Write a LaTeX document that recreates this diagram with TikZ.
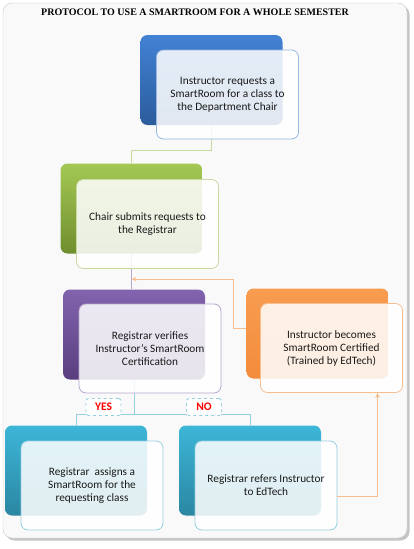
\documentclass[tikz,border=0pt]{standalone}
\usepackage{fontspec}
\setmainfont{Carlito}
\newfontfamily\titrefont{Liberation Serif}
\usetikzlibrary{arrows.meta,calc,shadows}

\definecolor{bleuH}{HTML}{4282D4}
\definecolor{bleuB}{HTML}{2B5C9C}
\definecolor{bleuL}{HTML}{95B7E2}
\definecolor{vertH}{HTML}{A4C853}
\definecolor{vertB}{HTML}{6F8E2F}
\definecolor{vertL}{HTML}{C6D9A0}
\definecolor{violetH}{HTML}{8264AE}
\definecolor{violetB}{HTML}{593E7F}
\definecolor{violetL}{HTML}{B7A7CC}
\definecolor{orangeH}{HTML}{F89C50}
\definecolor{orangeB}{HTML}{F38C3C}
\definecolor{orangeL}{HTML}{F9BE8E}
\definecolor{cyanH}{HTML}{3DB6D8}
\definecolor{cyanB}{HTML}{2A87A2}
\definecolor{cyanL}{HTML}{96CFE0}

\begin{document}
\begin{tikzpicture}[
  x=1pt,y=-1pt,
  >={Stealth[length=5pt,width=4.5pt]},
  cadre/.style={draw=black!22,fill=black!2.5,rounded corners=9pt,
    drop shadow={shadow xshift=2.5pt,shadow yshift=-2.5pt,fill=black!45}},
  arriere/.style n args={2}{rounded corners=7pt,inner sep=0pt,
    minimum width=142pt,minimum height=90pt,top color=#1,bottom color=#2},
  avant/.style={rounded corners=7pt,draw=#1,line width=0.8pt,
    fill=white,fill opacity=0.86,text opacity=1,text=black!90,
    minimum width=142pt,minimum height=89pt,align=center,
    font=\fontsize{11.3}{13}\selectfont},
  lien/.style={draw=#1,line width=0.9pt},
  choix/.style={draw=cyanL,dashed,line width=0.9pt,fill=white,
    rounded corners=2.5pt,minimum width=35pt,minimum height=17pt,
    inner sep=0pt,text=red,font=\bfseries\fontsize{11.5}{12}\selectfont},
]
  \useasboundingbox (0,0) rectangle (413,549);

  % Cadre et titre
  \path[cadre] (3,3) rectangle (407,538);
  \node[font=\titrefont\bfseries\fontsize{10}{11}\selectfont] (titre) at (195,12)
    {PROTOCOL TO USE A SMARTROOM FOR A WHOLE SEMESTER};

  % Blocs arriere (degrades)
  \node[arriere={bleuH}{bleuB}]     (demandeF)  at (211.5,80)  {};
  \node[arriere={vertH}{vertB}]     (chefF)     at (131.5,208.5) {};
  \node[arriere={violetH}{violetB}] (verifF)    at (134,334.5) {};
  \node[arriere={orangeH}{orangeB}] (certifF)   at (317.5,333.5) {};
  \node[arriere={cyanH}{cyanB}]     (attribF)   at (76,470.5)  {};
  \node[arriere={cyanH}{cyanB}]     (renvoiF)   at (250,470.5) {};

  % Liens
  \draw[lien=vertL] (demandeF.south) -- ++(0,25) -| (chefF.north);
  \draw[lien=violetL] (chefF.south) -- (chefF.south |- verifF.north);
  \draw[lien=cyanL] (verifF.south) -- ++(0,35) coordinate (fourche);
  \draw[lien=cyanL] (fourche) -| (attribF.north);
  \draw[lien=cyanL] (fourche) -| (renvoiF.north);

  % Blocs avant (texte)
  \node[avant=bleuL]   (demande) at ($(demandeF)+(16,14.5)$)
    {Instructor requests a\\SmartRoom for a class to\\the Department Chair};
  \node[avant=vertL]   (chef)    at ($(chefF)+(16,15.5)$)
    {Chair submits requests to\\the Registrar};
  \node[avant=violetL] (verif)   at ($(verifF)+(16,14)$)
    {Registrar verifies\\Instructor's SmartRoom\\Certification};
  \node[avant=orangeL] (certif)  at ($(certifF)+(14,14.5)$)
    {Instructor becomes\\SmartRoom Certified\\(Trained by EdTech)};
  \node[avant=cyanL]   (attrib)  at ($(attribF)+(16,15)$)
    {Registrar\ \ assigns a\\SmartRoom for the\\requesting class};
  \node[avant=cyanL]   (renvoi)  at ($(renvoiF)+(16,15)$)
    {Registrar refers Instructor\\to EdTech};

  % Etiquettes YES / NO
  \node[choix] (oui) at (103.5,407) {YES};
  \node[choix] (non) at (204,407)   {NO};

  % Retour par la certification (orange)
  \coordinate (jonction) at ($(chef.south -| chefF.south)!0.5!(verifF.north -| chefF.south)$);
  \draw[lien=orangeL,->] ($(certifF.west)+(0,-5)$) -- ++(-13,0) |- (jonction);
  \draw[lien=orangeL,->] ($(renvoi.east)+(0,11)$) -| ($(certif.south)+(46,0)$);
\end{tikzpicture}
\end{document}
